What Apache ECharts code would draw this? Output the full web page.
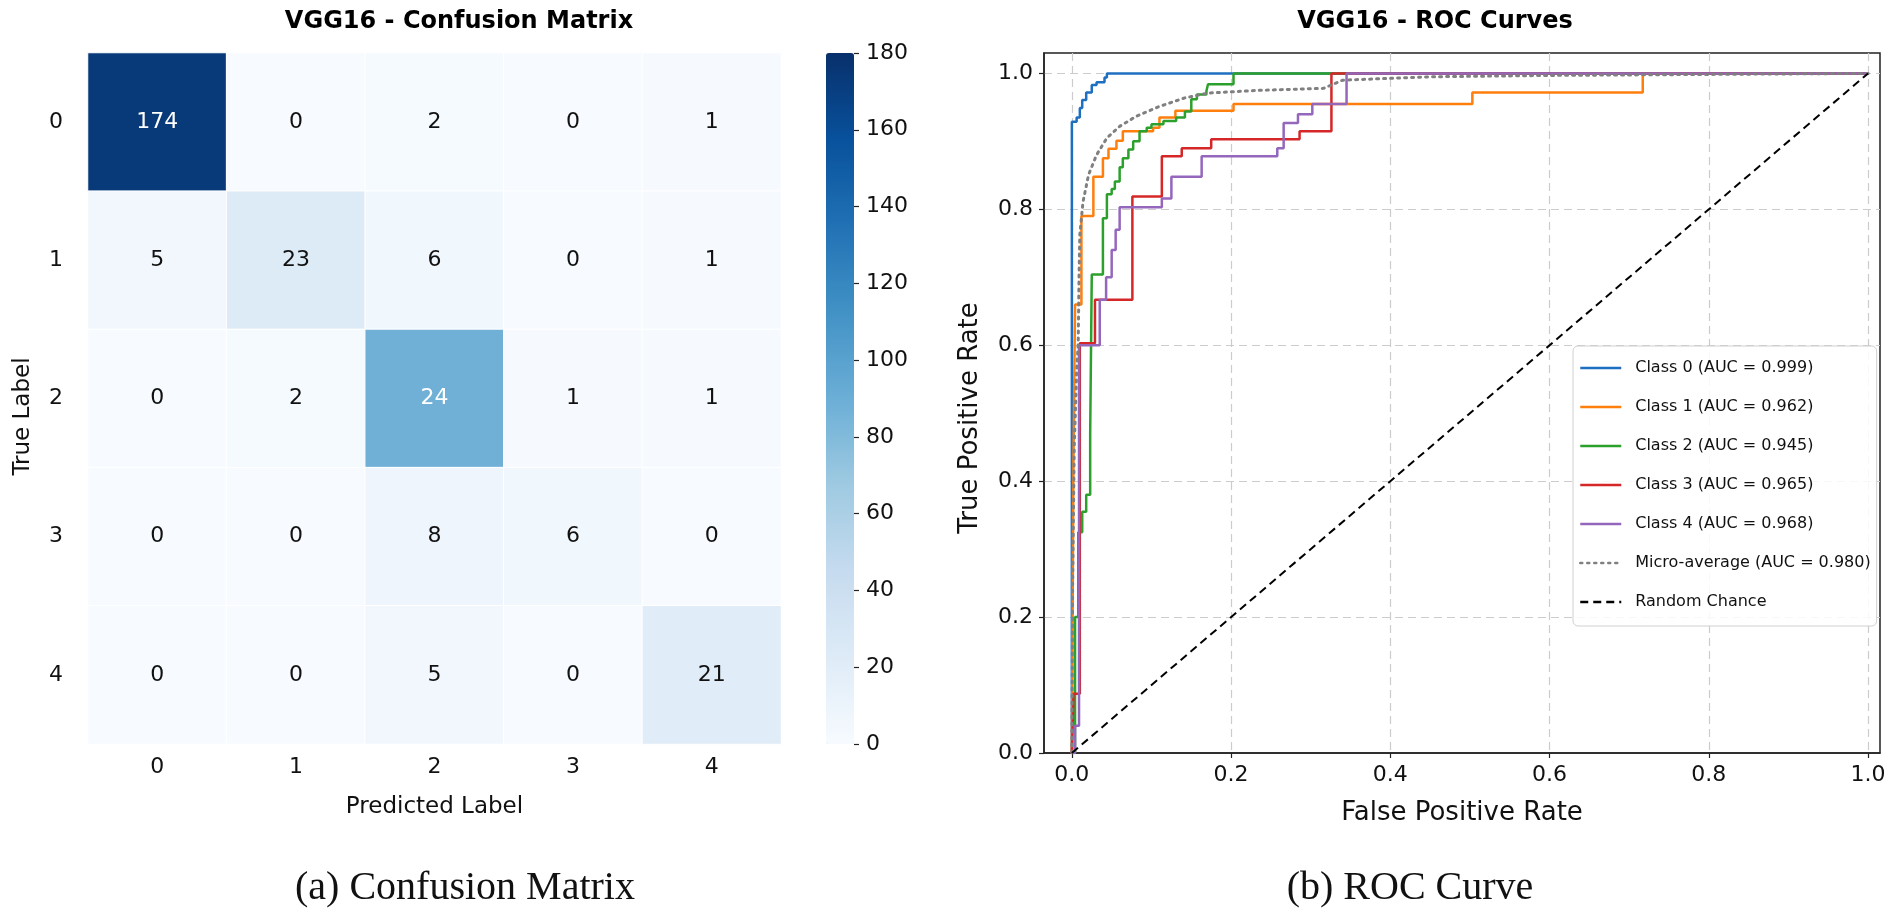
<!DOCTYPE html>
<html>
<head>
<meta charset="utf-8">
<script src="https://cdn.jsdelivr.net/npm/echarts@6/dist/echarts.min.js"></script>
<style>
  html, body { margin: 0; padding: 0; background: #fff; }
  #chart { width: 1900px; height: 914px; }
</style>
</head>
<body>
<div id="chart"></div>
<script>
// ---------------- DATA ----------------
const classLabels = ['0', '1', '2', '3', '4'];
const confusionCounts = [
  [174, 0, 2, 0, 1],
  [5, 23, 6, 0, 1],
  [0, 2, 24, 1, 1],
  [0, 0, 8, 6, 0],
  [0, 0, 5, 0, 21]
];
// colour level of each cell as read against the colour bar
const cellShade = [
  [174, 0, 2, 0, 1],
  [5, 23, 6, 0, 1],
  [0, 2, 88, 1, 1],
  [0, 0, 8, 6, 0],
  [0, 0, 5, 0, 21]
];
const colorbarMin = 0;
const colorbarMax = 180;
const colorbarStep = 20;

const aucValues = ['0.999', '0.962', '0.945', '0.965', '0.968'];
const microAuc = '0.980';

const rocClass0 = [[0,0],[0,0.929],[0.006,0.929],[0.006,0.935],[0.010,0.935],[0.010,0.949],[0.013,0.949],[0.013,0.961],[0.018,0.961],[0.018,0.972],[0.025,0.972],[0.025,0.983],[0.031,0.983],[0.031,0.987],[0.041,0.987],[0.041,0.994],[0.044,0.994],[0.044,1],[1,1]];
const rocClass1 = [[0,0],[0.002,0],[0.002,0.43],[0.004,0.43],[0.004,0.66],[0.012,0.66],[0.012,0.79],[0.027,0.79],[0.027,0.848],[0.039,0.848],[0.039,0.875],[0.046,0.875],[0.046,0.889],[0.056,0.889],[0.056,0.901],[0.064,0.901],[0.064,0.915],[0.102,0.915],[0.102,0.920],[0.110,0.920],[0.110,0.935],[0.130,0.935],[0.130,0.945],[0.203,0.945],[0.203,0.955],[0.503,0.955],[0.503,0.972],[0.717,0.972],[0.717,1],[1,1]];
const rocClass2 = [[0,0],[0.004,0],[0.004,0.20],[0.008,0.20],[0.008,0.325],[0.013,0.325],[0.013,0.355],[0.018,0.355],[0.018,0.38],[0.023,0.38],[0.023,0.47],[0.025,0.47],[0.025,0.704],[0.039,0.704],[0.039,0.787],[0.044,0.787],[0.044,0.822],[0.050,0.822],[0.050,0.83],[0.054,0.83],[0.054,0.841],[0.060,0.841],[0.060,0.862],[0.064,0.862],[0.064,0.875],[0.071,0.875],[0.071,0.888],[0.077,0.888],[0.077,0.900],[0.085,0.900],[0.085,0.915],[0.094,0.915],[0.094,0.92],[0.100,0.92],[0.100,0.925],[0.115,0.925],[0.115,0.93],[0.131,0.93],[0.131,0.935],[0.142,0.935],[0.142,0.944],[0.150,0.944],[0.150,0.962],[0.157,0.962],[0.157,0.969],[0.169,0.969],[0.169,0.974],[0.171,0.974],[0.171,0.984],[0.203,0.984],[0.203,1],[1,1]];
const rocClass3 = [[0,0],[0.002,0],[0.002,0.087],[0.010,0.087],[0.010,0.603],[0.029,0.603],[0.029,0.667],[0.076,0.667],[0.076,0.819],[0.113,0.819],[0.113,0.878],[0.138,0.878],[0.138,0.890],[0.175,0.890],[0.175,0.903],[0.286,0.903],[0.286,0.915],[0.326,0.915],[0.326,1],[1,1]];
const rocClass4 = [[0,0],[0.004,0],[0.004,0.04],[0.009,0.04],[0.009,0.60],[0.035,0.60],[0.035,0.667],[0.043,0.667],[0.043,0.70],[0.050,0.70],[0.050,0.74],[0.055,0.74],[0.055,0.77],[0.060,0.77],[0.060,0.803],[0.113,0.803],[0.113,0.816],[0.125,0.816],[0.125,0.848],[0.163,0.848],[0.163,0.878],[0.258,0.878],[0.258,0.890],[0.266,0.890],[0.266,0.927],[0.284,0.927],[0.284,0.94],[0.302,0.94],[0.302,0.955],[0.345,0.955],[0.345,1],[1,1]];
const rocMicro = [[0,0],[0.001,0.25],[0.003,0.45],[0.006,0.56],[0.008,0.605],[0.009,0.70],[0.010,0.763],[0.014,0.811],[0.021,0.851],[0.031,0.880],[0.044,0.905],[0.060,0.922],[0.081,0.937],[0.109,0.951],[0.142,0.964],[0.171,0.971],[0.234,0.975],[0.316,0.978],[0.34,0.99],[0.45,0.995],[0.6,0.997],[1,1]];
const rocChance = [[0,0],[1,1]];

// ---------------- STYLE ----------------
const FONT = 'DejaVu Sans';
const blues = ['#f7fbff','#deebf7','#c6dbef','#9ecae1','#6baed6','#4292c6','#2171b5','#08519c','#08306b'];
const classColors = ['#1f6fc0', '#ff7f0e', '#2ca02c', '#d62728', '#9467bd'];
const rocSets = [rocClass0, rocClass1, rocClass2, rocClass3, rocClass4];

const heatData = [];
confusionCounts.forEach((row, r) => {
  row.forEach((count, c) => {
    const shade = cellShade[r][c];
    heatData.push({
      value: [c, r, shade, count],
      label: { color: shade > 80 ? '#ffffff' : '#111111' }
    });
  });
});

const rocSeries = rocSets.map((pts, i) => ({
  name: 'Class ' + i + ' (AUC = ' + aucValues[i] + ')',
  type: 'line',
  xAxisIndex: 1, yAxisIndex: 1,
  data: pts,
  symbol: 'none', showSymbol: false,
  lineStyle: { color: classColors[i], width: 2.5 },
  itemStyle: { color: classColors[i] },
  z: 3 + i
}));
rocSeries.push({
  name: 'Micro-average (AUC = ' + microAuc + ')',
  type: 'line', xAxisIndex: 1, yAxisIndex: 1,
  data: rocMicro, smooth: false,
  symbol: 'none', showSymbol: false,
  lineStyle: { color: '#808080', width: 3, type: [2, 5], cap: 'round' },
  itemStyle: { color: '#808080' },
  z: 9
});
rocSeries.push({
  name: 'Random Chance',
  type: 'line', xAxisIndex: 1, yAxisIndex: 1,
  data: rocChance,
  symbol: 'none', showSymbol: false,
  lineStyle: { color: '#000', width: 2, type: [8, 5] },
  itemStyle: { color: '#000' },
  z: 10
});

const tickText = { fontFamily: FONT, fontSize: 22, color: '#111' };

const option = {
  animation: false,
  backgroundColor: '#fff',
  textStyle: { fontFamily: FONT },
  title: [
    { text: 'VGG16 - Confusion Matrix', left: 459, top: 10, textAlign: 'center', padding: 0,
      textStyle: { fontFamily: FONT, fontSize: 24, fontWeight: 'bold', color: '#000' } },
    { text: 'VGG16 - ROC Curves', left: 1435, top: 10, textAlign: 'center', padding: 0,
      textStyle: { fontFamily: FONT, fontSize: 24, fontWeight: 'bold', color: '#000' } },
    { text: '(a) Confusion Matrix', left: 465, top: 868, textAlign: 'center', padding: 0,
      textStyle: { fontFamily: 'Liberation Serif', fontSize: 40, fontWeight: 'normal', color: '#111' } },
    { text: '(b) ROC Curve', left: 1410, top: 868, textAlign: 'center', padding: 0,
      textStyle: { fontFamily: 'Liberation Serif', fontSize: 40, fontWeight: 'normal', color: '#111' } }
  ],
  grid: [
    { left: 88, top: 53, width: 693, height: 691 },
    { left: 1044, top: 53, right: 20, bottom: 161, show: true, borderColor: '#222', borderWidth: 1.5, backgroundColor: 'transparent' },
    { left: 826, top: 53, width: 28, height: 691 }
  ],
  xAxis: [
    { type: 'category', gridIndex: 0, data: classLabels, position: 'bottom',
      axisLine: { show: false }, axisTick: { show: false }, splitLine: { show: false },
      axisLabel: Object.assign({ margin: 12 }, tickText),
      name: 'Predicted Label', nameLocation: 'middle', nameGap: 52,
      nameTextStyle: { fontFamily: FONT, fontSize: 23, color: '#111' } },
    { type: 'value', gridIndex: 1, min: -0.035, max: 1.015, minInterval: 0.2, maxInterval: 0.2,
      axisLine: { show: true, onZero: false, lineStyle: { color: '#222', width: 1.5 } },
      axisTick: { show: true, length: 5, inside: false, lineStyle: { color: '#222', width: 1.2 } },
      splitLine: { show: true, showMinLine: false, showMaxLine: false, lineStyle: { color: '#cccccc', width: 1.2, type: [8, 5] } },
      axisLabel: Object.assign({ margin: 11, showMinLabel: false, showMaxLabel: false,
        formatter: v => v.toFixed(1) }, tickText),
      name: 'False Positive Rate', nameLocation: 'middle', nameGap: 47,
      nameTextStyle: { fontFamily: FONT, fontSize: 26, color: '#111' } },
    { type: 'value', gridIndex: 2, min: 0, max: 1, show: false,
      axisLine: { onZero: false } }
  ],
  yAxis: [
    { type: 'category', gridIndex: 0, data: classLabels, inverse: true,
      axisLine: { show: false }, axisTick: { show: false }, splitLine: { show: false },
      axisLabel: Object.assign({ margin: 25 }, tickText),
      name: 'True Label', nameLocation: 'middle', nameGap: 53,
      nameTextStyle: { fontFamily: FONT, fontSize: 23, color: '#111', padding: [0, 36, 0, 0] } },
    { type: 'value', gridIndex: 1, min: 0, max: 1.03, minInterval: 0.2, maxInterval: 0.2,
      axisLine: { show: true, onZero: false, lineStyle: { color: '#222', width: 1.5 } },
      axisTick: { show: true, length: 5, inside: false, lineStyle: { color: '#222', width: 1.2 } },
      splitLine: { show: true, showMinLine: false, showMaxLine: false, lineStyle: { color: '#cccccc', width: 1.2, type: [8, 5] } },
      axisLabel: Object.assign({ margin: 11, showMaxLabel: false,
        formatter: v => v.toFixed(1) }, tickText),
      name: 'True Positive Rate', nameLocation: 'middle', nameGap: 61,
      nameTextStyle: { fontFamily: FONT, fontSize: 26, color: '#111', padding: [0, 30, 0, 0] } },
    { type: 'value', gridIndex: 2, position: 'right', min: colorbarMin, max: colorbarMax, interval: colorbarStep,
      axisLine: { show: false, onZero: false },
      axisTick: { show: true, length: 5, inside: false, lineStyle: { color: '#222', width: 1.2 } },
      splitLine: { show: false },
      axisLabel: Object.assign({ margin: 12 }, tickText) }
  ],
  visualMap: {
    type: 'continuous', seriesIndex: 0, dimension: 2,
    min: colorbarMin, max: colorbarMax, calculable: false,
    orient: 'vertical', left: 826, top: 53, itemWidth: 28, itemHeight: 691,
    padding: 0, text: null, showLabel: false,
    inRange: { color: blues }
  },
  legend: {
    orient: 'vertical', left: 1573, top: 346,
    padding: [11, 6, 13, 6], itemGap: 17, itemWidth: 41, itemHeight: 14,
    backgroundColor: 'rgba(255,255,255,0.85)', borderColor: '#d0d0d0', borderWidth: 1, borderRadius: 5,
    itemStyle: { color: 'rgba(0,0,0,0)', borderColor: 'rgba(0,0,0,0)', borderWidth: 0 },
    lineStyle: { width: 2.5 },
    textStyle: { fontFamily: FONT, fontSize: 16, lineHeight: 22, color: '#111', padding: [0, 0, 0, 9] },
    data: rocSeries.map(s => s.name)
  },
  series: [
    {
      type: 'heatmap', xAxisIndex: 0, yAxisIndex: 0,
      data: heatData,
      itemStyle: { borderColor: '#ffffff', borderWidth: 1 },
      label: { show: true, fontFamily: FONT, fontSize: 22, formatter: p => String(p.value[3]) },
      emphasis: { disabled: true }
    }
  ].concat(rocSeries)
};

const chart = echarts.init(document.getElementById('chart'), null, { renderer: 'canvas', width: 1900, height: 914 });
chart.setOption(option);
</script>
</body>
</html>
